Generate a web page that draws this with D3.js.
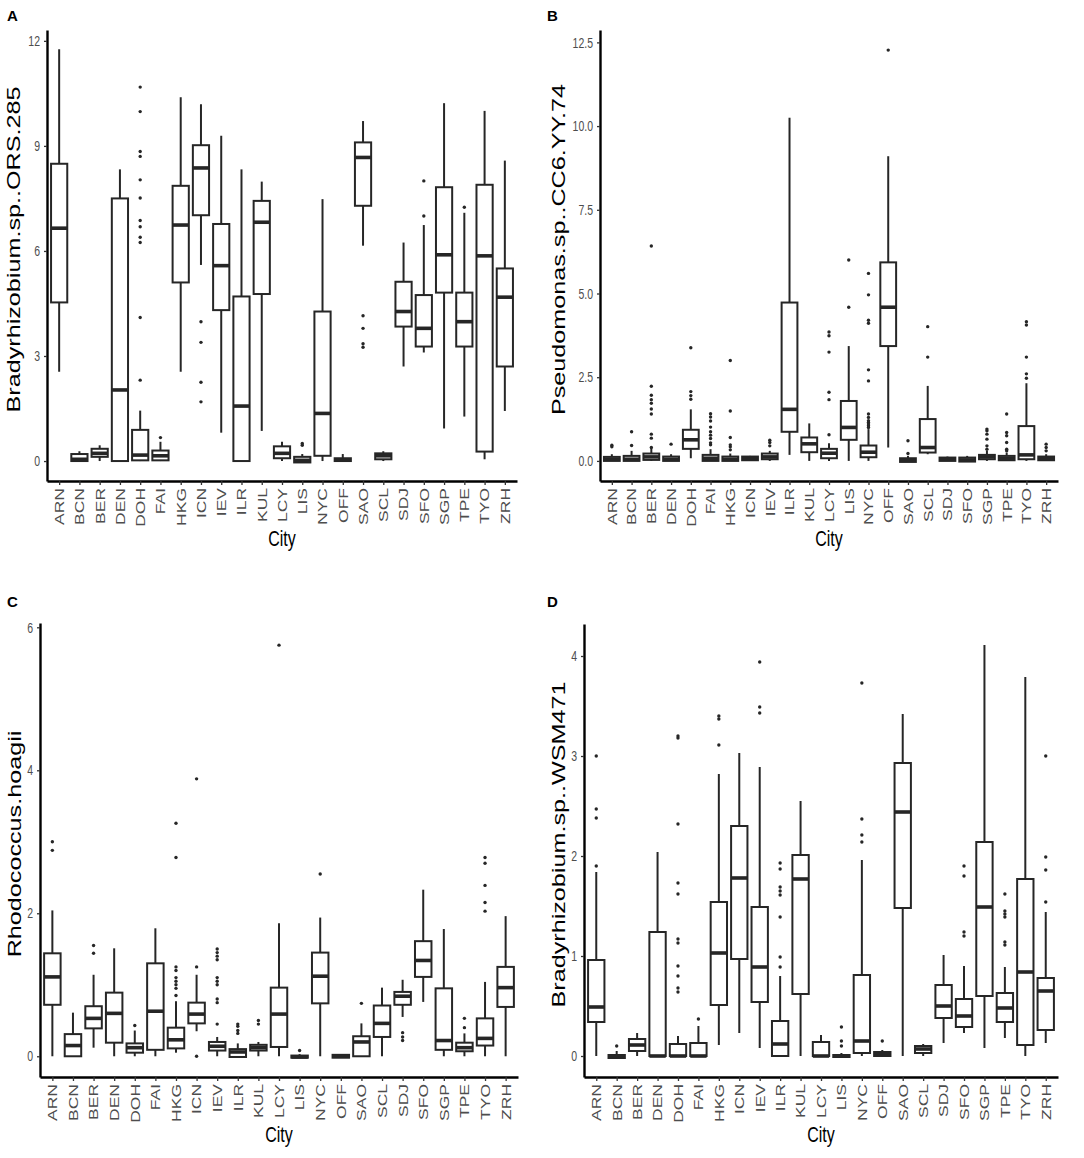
<!DOCTYPE html>
<html>
<head>
<meta charset="utf-8">
<script src="https://cdn.jsdelivr.net/npm/d3@7"></script>
<style>
  body { margin: 0; background: #fff; }
  .tick text { fill: #4d4d4d; font-family: "Liberation Sans", Arial, sans-serif; }
  .ytick text { font-size: 10.5px; }
  .xtick text { font-size: 12.5px; }
</style>
</head>
<body>
<div class="d3"></div>
<script>
// cities on every x axis
const cities = ["ARN","BCN","BER","DEN","DOH","FAI","HKG","ICN","IEV","ILR","KUL","LCY",
  "LIS","NYC","OFF","SAO","SCL","SDJ","SFO","SGP","TPE","TYO","ZRH"];

// [whisker low, q1, median, q3, whisker high] per city
const orsStats = [
  [2.55,4.53,6.65,8.49,11.76],[0,0,0.05,0.2,0.28],[0,0.12,0.22,0.35,0.45],[0,0,2.03,7.5,8.33],
  [0,0.02,0.17,0.89,1.44],[0,0.02,0.15,0.3,0.55],[2.55,5.1,6.74,7.86,10.39],[5.6,7.02,8.37,9.02,10.19],
  [0.81,4.31,5.58,6.77,9.29],[0,0,1.57,4.7,8.33],[0.86,4.77,6.82,7.43,7.98],[0,0.08,0.22,0.42,0.55],
  [-0.05,-0.04,0.02,0.12,0.2],[0,0.15,1.36,4.27,7.48],[0,0,0.03,0.08,0.2],[6.15,7.29,8.67,9.1,9.71],
  [0,0.05,0.15,0.22,0.28],[2.7,3.84,4.27,5.12,6.24],[3.1,3.27,3.79,4.74,6.74],[0.93,4.81,5.89,7.82,10.22],
  [1.27,3.27,3.98,4.81,7.09],[0.05,0.27,5.86,7.89,10.0],[1.43,2.7,4.68,5.5,8.58]
];
const orsOutliers = [
  [],[],[],[],[10.68,9.98,8.84,8.7,8.03,7.51,6.87,6.69,6.39,6.24,4.1,2.31],[0.67],[],
  [3.98,3.39,2.25,1.69],[],[],[],[],[0.45,0.5],[],[],[4.15,3.79,3.35,3.25],[],[],[8.0,7.0],[],[7.25],[],[]
];

const pseStats = [
  [0,0,0.05,0.12,0.2],[0,0,0.05,0.15,0.3],[0,0.03,0.12,0.22,0.38],[0,0,0.05,0.13,0.2],
  [0.08,0.36,0.63,0.93,1.54],[0,0,0.08,0.18,0.35],[0,0,0.05,0.13,0.22],[0,0.02,0.08,0.13,0.15],
  [0,0.05,0.12,0.22,0.3],[0.18,0.87,1.54,4.73,10.25],[0,0.26,0.51,0.7,1.12],[0,0.08,0.23,0.36,0.53],
  [0,0.63,1.0,1.79,3.43],[0,0.11,0.26,0.46,0.95],[0.4,3.43,4.59,5.93,9.1],[-0.03,-0.03,0.02,0.08,0.15],
  [0.2,0.25,0.4,1.25,2.24],[0,0,0.05,0.1,0.13],[-0.02,-0.02,0.03,0.1,0.15],[0,0.05,0.12,0.18,0.3],
  [0,0.02,0.08,0.15,0.25],[0,0.05,0.18,1.04,2.32],[0,0.02,0.08,0.13,0.2]
];
const pseOutliers = [
  [0.42,0.47],[0.46,0.87],[0.4,0.68,0.8,1.4,1.55,1.72,1.83,1.96,2.23,6.42],[0.5],
  [1.84,1.95,2.07,3.38],[0.48,0.54,0.67,0.77,0.87,1.01,1.19,1.31,1.41],[0.33,0.42,0.48,0.7,1.49,3.0],[],
  [0.45,0.55,0.62],[],[],[0.78,1.83,2.05,3.25,3.74,3.85],[4.59,6.0],
  [1.0,1.05,1.1,1.15,1.2,1.3,1.4,2.39,2.72,4.11,4.2,4.96,5.6],[12.27],[0.22,0.6],[3.1,4.01],[],[],
  [0.35,0.45,0.65,0.8,0.9,0.95],[0.3,0.35,0.55,0.75,0.85,1.4],[2.47,2.6,3.1,4.06,4.16],[0.3,0.4,0.5]
];

const rhoStats = [
  [0,0.72,1.11,1.44,2.04],[0,0,0.15,0.31,0.61],[0.12,0.39,0.53,0.7,1.14],[0,0.19,0.6,0.89,1.51],
  [0,0.05,0.12,0.18,0.36],[0,0.09,0.63,1.3,1.79],[0.05,0.11,0.23,0.4,0.77],[0.35,0.46,0.59,0.75,1.14],
  [0,0.08,0.14,0.2,0.27],[-0.01,-0.01,0.06,0.1,0.18],[0,0.08,0.12,0.16,0.2],[0,0.13,0.59,0.96,1.86],
  [-0.02,-0.02,-0.01,0.01,0.03],[0,0.74,1.12,1.45,1.94],[-0.02,-0.02,0,0.02,0.03],[0,0,0.2,0.28,0.46],
  [0,0.27,0.46,0.71,0.96],[0.55,0.72,0.84,0.9,1.07],[0.76,1.11,1.34,1.61,2.33],[0,0.09,0.22,0.95,1.78],
  [0,0.07,0.12,0.19,0.32],[0,0.15,0.25,0.53,1.04],[0,0.69,0.96,1.25,1.96]
];
const rhoOutliers = [
  [2.88,3.0],[],[1.44,1.55],[],[0.43],[],[0.85,0.95,1.0,1.05,1.1,1.2,1.25,2.78,3.26],[0,1.25,3.88],
  [0.45,0.75,0.8,1.0,1.05,1.1,1.35,1.4,1.45,1.5],[0.32,0.36,0.42,0.45],[0.45,0.5],[5.75],[0.08],[2.55],[],
  [0.74],[],[0.22,0.27,0.33],[],[],[0.4,0.53],[2.03,2.15,2.39,2.7,2.78],[]
];

const wsmStats = [
  [0,0.34,0.49,0.96,1.84],[-0.02,-0.02,0,0.01,0.05],[0,0.05,0.11,0.17,0.23],[0,0,0,1.24,2.04],
  [0,0,0,0.12,0.2],[0,0,0,0.13,0.3],[0.11,0.51,1.03,1.54,2.82],[0.23,0.97,1.78,2.3,3.03],
  [0.08,0.54,0.89,1.49,2.89],[0,0,0.12,0.35,0.8],[0,0.62,1.77,2.01,2.55],[0,0,0,0.14,0.21],
  [-0.01,-0.01,0,0.01,0.03],[0,0.03,0.15,0.81,1.96],[0,0,0.02,0.04,0.06],[0,1.48,2.44,2.93,3.42],
  [0,0.03,0.07,0.1,0.12],[0.13,0.38,0.5,0.71,1.01],[0.23,0.29,0.4,0.57,0.9],[0.08,0.6,1.49,2.14,4.11],
  [0.18,0.34,0.48,0.63,0.89],[0,0.11,0.84,1.77,3.79],[0.13,0.26,0.65,0.78,1.44]
];
const wsmOutliers = [
  [1.9,2.38,2.47,3.0],[0.1],[],[],[0.64,0.68,0.8,0.9,1.13,1.17,1.62,1.73,2.32,3.18,3.2],[0.37],
  [3.11,3.37,3.4],[],[3.43,3.49,3.94],[0.89,0.99,1.39,1.61,1.65,1.69,1.87,1.93],[],[],[0.1,0.15,0.29],
  [2.14,2.21,2.37,3.73],[0.15],[],[],[],[1.2,1.24,1.8,1.9],[],[1.11,1.14,1.39,1.42,1.45,1.62],[],
  [1.54,1.86,1.99,3.0]
];

// y tick values per panel
const ticksA = [0, 3, 6, 9, 12];
const ticksB = [0, 2.5, 5, 7.5, 10, 12.5];
const ticksC = [0, 2, 4, 6];
const ticksD = [0, 1, 2, 3, 4];

const panels = [
  {letter: "A", title: "Bradyrhizobium.sp..ORS.285", stats: orsStats, outliers: orsOutliers, ticks: ticksA,
   fmt: d3.format("d"), domain: [-0.57, 12.31], left: 47, right: 517, top: 30, bottom: 481, ox: 0, oy: 0, tx: 20},
  {letter: "B", title: "Pseudomonas.sp..CC6.YY.74", stats: pseStats, outliers: pseOutliers, ticks: ticksB,
   fmt: d3.format(".1f"), domain: [-0.6, 12.87], left: 600, right: 1058, top: 30, bottom: 481, ox: 540, oy: 0, tx: 25},
  {letter: "C", title: "Rhodococcus.hoagii", stats: rhoStats, outliers: rhoOutliers, ticks: ticksC,
   fmt: d3.format("d"), domain: [-0.29, 6.06], left: 40, right: 518, top: 623, bottom: 1077, ox: 0, oy: 586, tx: 21},
  {letter: "D", title: "Bradyrhizobium.sp..WSM471", stats: wsmStats, outliers: wsmOutliers, ticks: ticksD,
   fmt: d3.format("d"), domain: [-0.21, 4.32], left: 584, right: 1058, top: 624, bottom: 1077, ox: 540, oy: 586, tx: 25}
];

const w = 1084, h = 1158;
const ink = "#262626";
const stretch = 1.4; // the figure is taller than its fonts, so text is stretched upright

const svg = d3.select(".d3").append("svg")
  .attr("width", w)
  .attr("height", h);

panels.forEach(p => {
  const g = svg.append("g");

  const x = d3.scalePoint().domain(cities).range([p.left, p.right]).padding(0.6);
  const y = d3.scaleLinear().domain(p.domain).range([p.bottom, p.top]);
  const bw = x.step() * 0.8;

  // boxes
  const box = g.selectAll(".box")
    .data(p.stats.map((s, i) => ({city: cities[i], s: s, out: p.outliers[i]})))
    .enter().append("g")
    .attr("class", "box");

  box.append("line")
    .attr("x1", d => x(d.city)).attr("x2", d => x(d.city))
    .attr("y1", d => y(d.s[4])).attr("y2", d => y(d.s[3]))
    .attr("stroke", ink).attr("stroke-width", 2);
  box.append("line")
    .attr("x1", d => x(d.city)).attr("x2", d => x(d.city))
    .attr("y1", d => y(d.s[1])).attr("y2", d => y(d.s[0]))
    .attr("stroke", ink).attr("stroke-width", 2);
  box.append("rect")
    .attr("x", d => x(d.city) - bw / 2)
    .attr("width", bw)
    .attr("y", d => y(d.s[3]))
    .attr("height", d => Math.max(0.5, y(d.s[1]) - y(d.s[3])))
    .attr("fill", "#fff")
    .attr("stroke", ink).attr("stroke-width", 2);
  box.append("line")
    .attr("x1", d => x(d.city) - bw / 2).attr("x2", d => x(d.city) + bw / 2)
    .attr("y1", d => y(d.s[2])).attr("y2", d => y(d.s[2]))
    .attr("stroke", ink).attr("stroke-width", 3.6);

  box.selectAll("circle")
    .data(d => d.out.map(v => ({city: d.city, v: v})))
    .enter().append("circle")
    .attr("cx", d => x(d.city))
    .attr("cy", d => y(d.v))
    .attr("r", 1.7)
    .attr("fill", ink);

  // axes
  const yAxis = g.append("g")
    .attr("class", "ytick")
    .attr("transform", "translate(" + p.left + ",0)")
    .call(d3.axisLeft(y).tickValues(p.ticks).tickFormat(p.fmt).tickSize(3).tickPadding(4).tickSizeOuter(0));
  const xAxis = g.append("g")
    .attr("class", "xtick")
    .attr("transform", "translate(0," + p.bottom + ")")
    .call(d3.axisBottom(x).tickSize(4).tickPadding(3).tickSizeOuter(0));

  [yAxis, xAxis].forEach(a => {
    a.select(".domain").attr("stroke", "#000").attr("stroke-width", 2.4);
    a.selectAll(".tick line").attr("stroke", "#333").attr("stroke-width", 1.3);
  });
  yAxis.selectAll(".tick text")
    .attr("transform", "scale(1," + stretch + ")");
  xAxis.selectAll(".tick text")
    .attr("transform", "scale(1," + stretch + ") rotate(-90)")
    .attr("text-anchor", "end")
    .attr("x", -5)
    .attr("y", 0)
    .attr("dy", "0.35em");

  // y title
  g.append("text")
    .attr("transform", "translate(" + (p.ox + p.tx) + "," + ((p.top + p.bottom) / 2 - 6) + ") scale(1," + stretch + ") rotate(-90)")
    .attr("text-anchor", "middle")
    .attr("font-family", "Liberation Sans, Arial, sans-serif")
    .attr("font-size", "18px")
    .attr("fill", "#000")
    .text(p.title);

  // x title
  g.append("text")
    .attr("transform", "translate(" + ((p.left + p.right) / 2) + "," + (p.bottom + 65) + ") scale(1," + stretch + ")")
    .attr("text-anchor", "middle")
    .attr("font-family", "Liberation Sans, Arial, sans-serif")
    .attr("font-size", "16px")
    .attr("fill", "#000")
    .text("City");

  // panel letter
  g.append("text")
    .attr("x", p.ox + 7)
    .attr("y", p.oy + 21)
    .attr("font-family", "Liberation Sans, Arial, sans-serif")
    .attr("font-weight", "bold")
    .attr("font-size", "15px")
    .attr("fill", "#000")
    .text(p.letter);
});
</script>
</body>
</html>
